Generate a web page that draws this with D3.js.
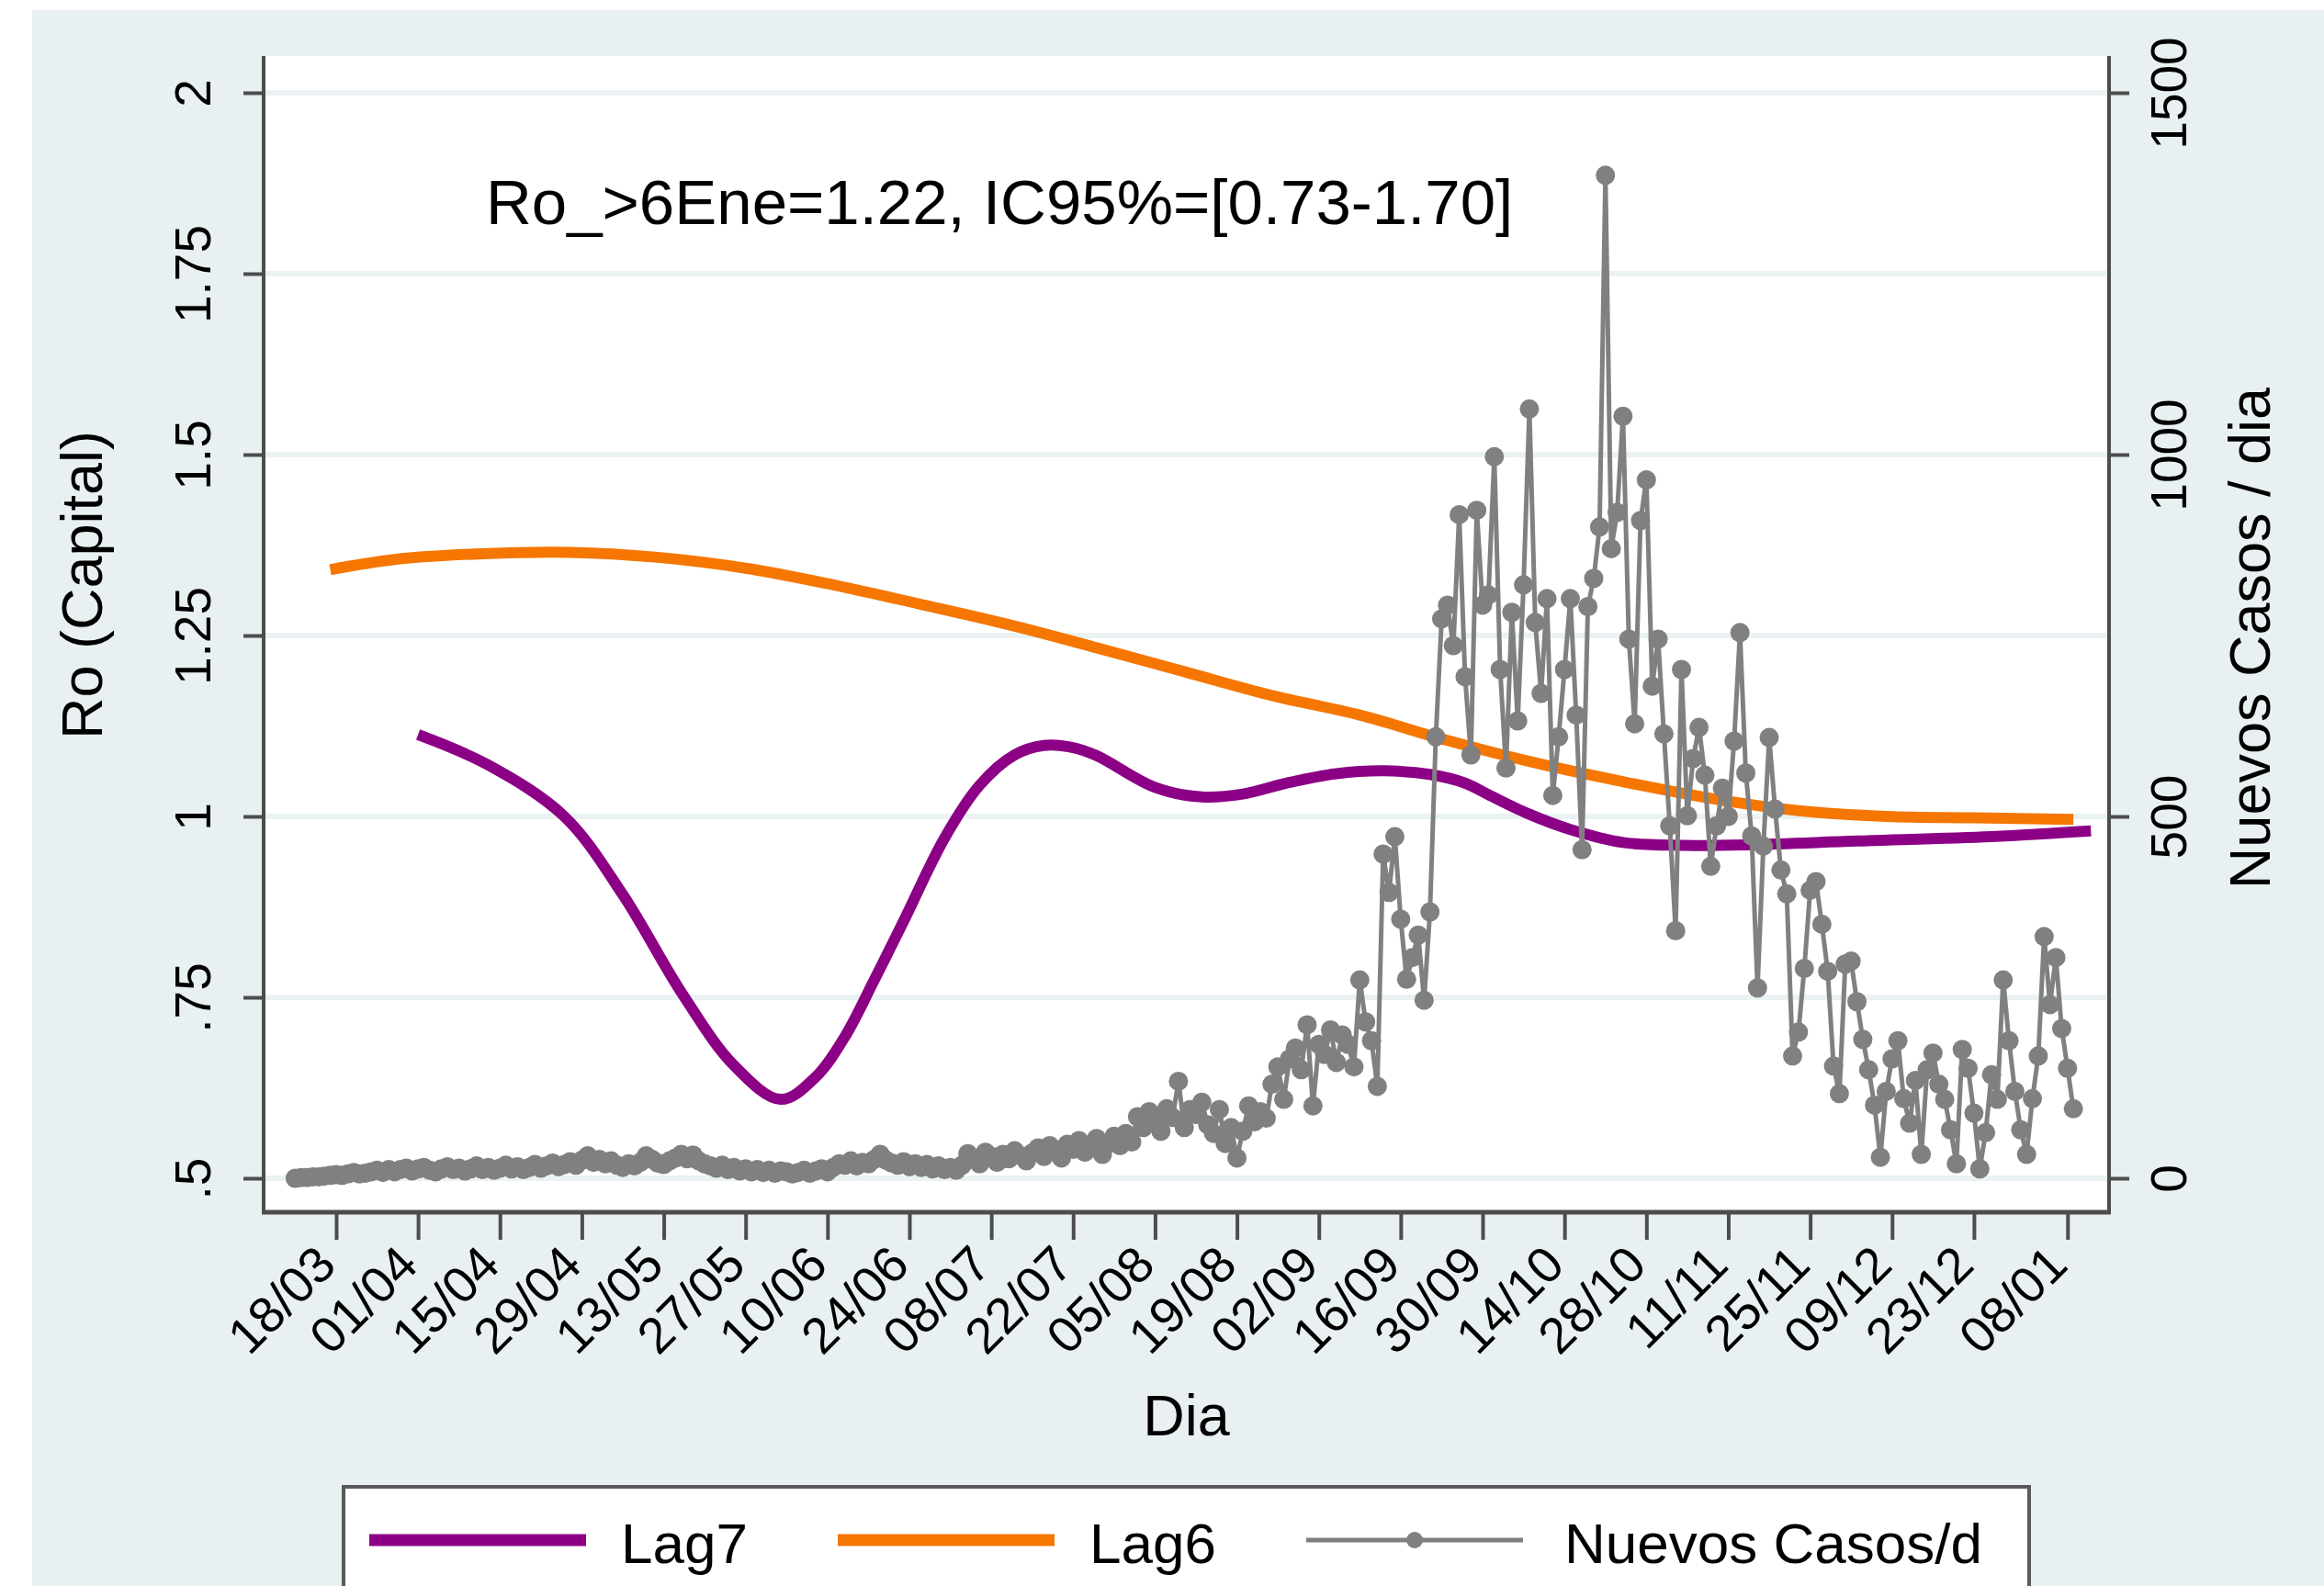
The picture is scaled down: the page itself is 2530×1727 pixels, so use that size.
<!DOCTYPE html>
<html><head><meta charset="utf-8">
<script src="https://cdn.jsdelivr.net/npm/d3@7"></script>
<style>
html,body{margin:0;padding:0;background:#fff;}
svg{display:block;}
text{font-family:"Liberation Sans",Arial,sans-serif;fill:#000;}
</style>
</head><body><svg id="c" width="2530" height="1727"></svg>
<script>
// ---------------- data ----------------
const tickDates = ["2020-03-18","2020-04-01","2020-04-15","2020-04-29","2020-05-13","2020-05-27","2020-06-10","2020-06-24","2020-07-08","2020-07-22","2020-08-05","2020-08-19","2020-09-02","2020-09-16","2020-09-30","2020-10-14","2020-10-28","2020-11-11","2020-11-25","2020-12-09","2020-12-23","2021-01-08"];
const leftTicks = [0.5,0.75,1,1.25,1.5,1.75,2];
const leftTickLabels = [".5",".75","1","1.25","1.5","1.75","2"];
const rightTicks = [0,500,1000,1500];
const rightTickLabels = ["0","500","1000","1500"];

const caseStartDate = "2020-03-11"; // one value per day from this date
const newCases = [
  0,1,1,2,2,3,4,5,4,6,8,6,7,9,
  11,8,12,9,12,14,10,13,15,11,9,13,16,12,
  14,10,13,17,12,15,11,14,18,13,16,12,15,19,
  14,17,21,16,19,23,18,25,31,22,26,20,24,18,
  15,20,17,22,31,26,21,19,24,28,33,27,32,24,
  20,17,14,18,12,15,10,13,9,12,8,11,7,10,
  9,6,8,11,7,10,13,9,15,20,18,24,17,22,
  20,26,33,25,21,18,23,16,20,15,19,13,17,12,
  15,11,18,34,26,20,36,30,22,33,27,38,31,24,
  35,42,30,45,38,28,47,40,52,36,44,55,33,48,
  58,45,62,50,85,70,92,78,65,96,84,134,70,95,
  88,105,74,62,95,48,70,28,65,100,78,92,83,130,
  154,109,165,180,150,212,100,185,171,205,160,198,185,154,
  274,216,190,127,448,395,472,358,275,305,336,246,368,610,
  773,792,736,917,693,585,923,792,806,997,703,567,782,632,
  820,1063,768,670,801,529,610,703,801,640,454,790,829,900,
  1386,870,920,1053,745,628,909,965,680,745,614,487,342,703,
  501,580,623,557,431,487,539,500,604,754,560,473,263,459,
  609,510,426,393,169,202,290,398,410,351,286,155,117,296,
  300,244,192,150,101,29,120,165,190,110,76,135,33,150,
  173,130,109,67,20,178,152,90,13,63,143,109,274,190,
  120,67,33,110,169,334,240,305,207,152,96
];

const lag7Dates = ["2020-04-01","2020-04-13","2020-04-26","2020-05-06","2020-05-16","2020-05-25","2020-06-02","2020-06-08","2020-06-13","2020-06-18","2020-06-23","2020-06-30","2020-07-06","2020-07-12","2020-07-17","2020-07-22","2020-07-26","2020-08-05","2020-08-13","2020-08-20","2020-08-28","2020-09-05","2020-09-13","2020-09-21","2020-09-27","2020-10-01","2020-10-08","2020-10-15","2020-10-24","2020-11-03","2020-11-15","2020-12-03","2020-12-26","2021-01-12"];
const lag7Values = [1.113,1.071,1.000,0.892,0.757,0.656,0.609,0.640,0.696,0.774,0.855,0.970,1.043,1.085,1.098,1.095,1.084,1.040,1.027,1.031,1.047,1.059,1.063,1.058,1.046,1.030,1.003,0.982,0.964,0.960,0.961,0.966,0.972,0.980];

const lag6Dates = ["2020-03-17","2020-03-28","2020-04-12","2020-04-27","2020-05-12","2020-05-27","2020-06-11","2020-06-26","2020-07-11","2020-07-26","2020-08-10","2020-08-25","2020-09-09","2020-09-24","2020-10-09","2020-10-24","2020-11-08","2020-11-23","2020-12-08","2020-12-23","2021-01-09"];
const lag6Values = [1.341,1.355,1.363,1.365,1.358,1.343,1.320,1.293,1.265,1.233,1.200,1.167,1.140,1.105,1.074,1.048,1.025,1.008,1.000,0.998,0.996];

const annotationText = "Ro_>6Ene=1.22, IC95%=[0.73-1.70]";
const xTitle = "Dia";
const yLeftTitle = "Ro (Capital)";
const yRightTitle = "Nuevos Casos / dia";
const legendLabels = ["Lag7","Lag6","Nuevos Casos/d"];

// ---------------- drawing ----------------
const W = 2530, H = 1727;
const C = {bg:"#e8f0f2", grid:"#eaf2f3", axis:"#4d4d4d", purple:"#8c0085", orange:"#f57600", gray:"#808080"};
const svg = d3.select("#c");
const parse = d3.utcParse("%Y-%m-%d");
const DAY = 864e5;
const P = {left:287, right:2296, top:61, bottom:1320};
const t0 = parse("2020-03-18");

const x = d3.scaleUtc()
  .domain([new Date(+t0 - 12.4*DAY), new Date(+t0 + 303.1*DAY)])
  .range([P.left, P.right]);
const yL = d3.scaleLinear().domain([0.5, 2]).range([1283, 101]);
const yR = d3.scaleLinear().domain([0, 1500]).range([1283, 101]);

// backgrounds
svg.append("rect").attr("width", W).attr("height", H).attr("fill", "#fff");
svg.append("rect").attr("x", 35).attr("y", 11).attr("width", W-35).attr("height", H-11).attr("fill", C.bg);
svg.append("rect").attr("x", P.left).attr("y", P.top).attr("width", P.right-P.left).attr("height", P.bottom-P.top).attr("fill", "#fff");

// gridlines
svg.append("g").selectAll("line").data(leftTicks).join("line")
  .attr("x1", P.left).attr("x2", P.right)
  .attr("y1", d => yL(d)).attr("y2", d => yL(d))
  .attr("stroke", C.grid).attr("stroke-width", 6);

// series data
const startDate = parse(caseStartDate);
const cases = newCases.map((v, i) => ({date: new Date(+startDate + i*DAY), v}));
const lag7 = lag7Dates.map((d, i) => ({date: parse(d), v: lag7Values[i]}));
const lag6 = lag6Dates.map((d, i) => ({date: parse(d), v: lag6Values[i]}));

const lineL = d3.line().x(d => x(d.date)).y(d => yL(d.v)).curve(d3.curveCatmullRom.alpha(0.5));
const lineR = d3.line().x(d => x(d.date)).y(d => yR(d.v));

svg.append("path").datum(lag7).attr("d", lineL).attr("fill", "none")
  .attr("stroke", C.purple).attr("stroke-width", 12);
svg.append("path").datum(lag6).attr("d", lineL).attr("fill", "none")
  .attr("stroke", C.orange).attr("stroke-width", 12);

svg.append("path").datum(cases).attr("d", lineR).attr("fill", "none")
  .attr("stroke", C.gray).attr("stroke-width", 5).attr("stroke-linejoin", "round");
svg.append("g").selectAll("circle").data(cases).join("circle")
  .attr("cx", d => x(d.date)).attr("cy", d => yR(d.v)).attr("r", 10.5)
  .attr("fill", C.gray);

// axes
function styleAxis(g) {
  g.select(".domain").remove();
  g.selectAll(".tick line").attr("stroke", C.axis).attr("stroke-width", 4);
  g.selectAll(".tick text").attr("fill", "#000").attr("font-family", '"Liberation Sans", Arial, sans-serif');
}

const gL = svg.append("g").attr("transform", `translate(${P.left},0)`)
  .call(d3.axisLeft(yL).tickValues(leftTicks).tickSize(22).tickFormat((d, i) => leftTickLabels[i]));
styleAxis(gL);
gL.selectAll(".tick text").attr("x", null).attr("dy", null).attr("text-anchor", "middle")
  .attr("font-size", 55).attr("transform", "translate(-58,0) rotate(-90)");

const gR = svg.append("g").attr("transform", `translate(${P.right},0)`)
  .call(d3.axisRight(yR).tickValues(rightTicks).tickSize(22).tickFormat((d, i) => rightTickLabels[i]));
styleAxis(gR);
gR.selectAll(".tick text").attr("x", null).attr("dy", null).attr("text-anchor", "middle")
  .attr("font-size", 55).attr("transform", "translate(84,0) rotate(-90)");

const gB = svg.append("g").attr("transform", `translate(0,${P.bottom})`)
  .call(d3.axisBottom(x).tickValues(tickDates.map(parse)).tickSize(30).tickFormat(d3.utcFormat("%d/%m")));
styleAxis(gB);
gB.selectAll(".tick text").attr("y", null).attr("dy", null).attr("text-anchor", "end")
  .attr("font-size", 55).attr("transform", "translate(2,60) rotate(-45)");

// axis lines
svg.append("line").attr("x1", P.left).attr("x2", P.left).attr("y1", P.top).attr("y2", P.bottom+2)
  .attr("stroke", C.axis).attr("stroke-width", 4);
svg.append("line").attr("x1", P.right).attr("x2", P.right).attr("y1", P.top).attr("y2", P.bottom+2)
  .attr("stroke", C.axis).attr("stroke-width", 4);
svg.append("line").attr("x1", P.left-2).attr("x2", P.right+2).attr("y1", P.bottom).attr("y2", P.bottom)
  .attr("stroke", C.axis).attr("stroke-width", 5);

// titles
svg.append("text").attr("x", (P.left+P.right)/2).attr("y", 1563).attr("text-anchor", "middle")
  .attr("font-size", 63).text(xTitle);
svg.append("text").attr("text-anchor", "middle").attr("font-size", 63)
  .attr("transform", "translate(111,637) rotate(-90)").text(yLeftTitle);
svg.append("text").attr("text-anchor", "middle").attr("font-size", 63)
  .attr("transform", "translate(2471,695) rotate(-90)").text(yRightTitle);

// annotation
svg.append("text").attr("x", 529).attr("y", 244).attr("font-size", 69).text(annotationText);

// legend
const lg = svg.append("g");
lg.append("rect").attr("x", 374).attr("y", 1619).attr("width", 1835).attr("height", 200)
  .attr("fill", "#fff").attr("stroke", "#5a5a5a").attr("stroke-width", 4);
const legendItems = [
  {x1:402, x2:638, tx:676, color:C.purple, w:13, marker:false},
  {x1:912, x2:1148, tx:1186, color:C.orange, w:13, marker:false},
  {x1:1422, x2:1658, tx:1703, color:C.gray, w:5, marker:true}
];
legendItems.forEach((it, i) => {
  lg.append("line").attr("x1", it.x1).attr("x2", it.x2).attr("y1", 1677).attr("y2", 1677)
    .attr("stroke", it.color).attr("stroke-width", it.w);
  if (it.marker) lg.append("circle").attr("cx", (it.x1+it.x2)/2).attr("cy", 1677).attr("r", 9).attr("fill", it.color);
  lg.append("text").attr("x", it.tx).attr("y", 1702).attr("font-size", 62).text(legendLabels[i]);
});
</script>
</body></html>
